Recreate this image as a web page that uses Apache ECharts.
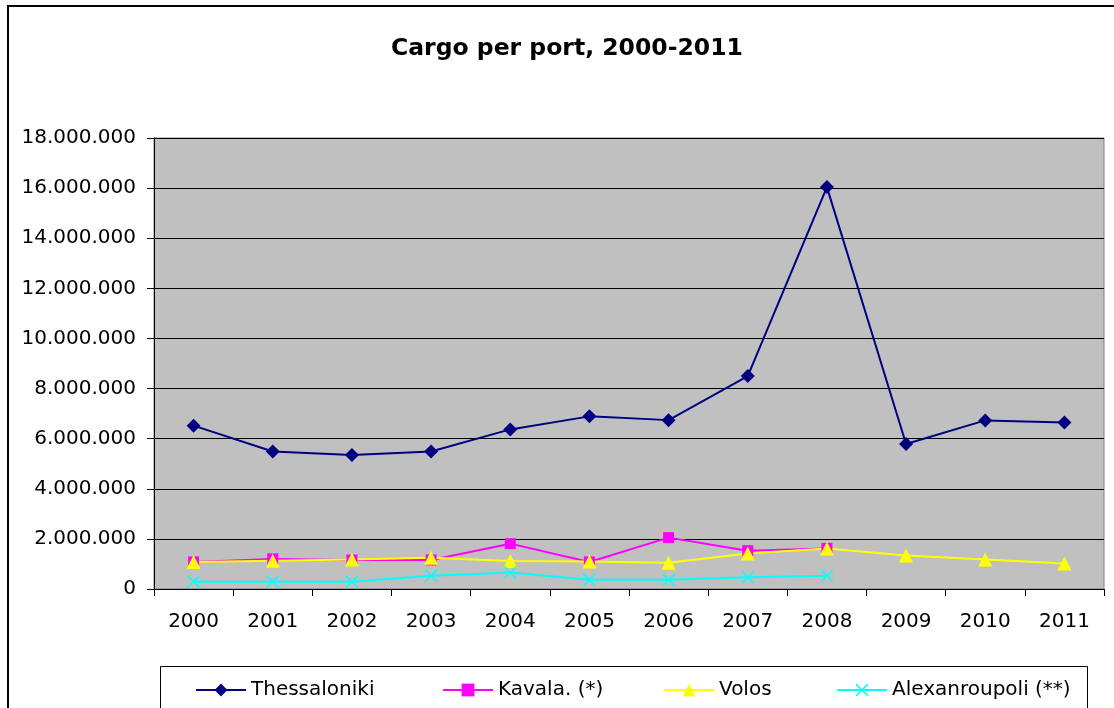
<!DOCTYPE html>
<html>
<head>
<meta charset="utf-8">
<script src="https://cdn.jsdelivr.net/npm/echarts@6/dist/echarts.min.js"></script>
<style>
  html, body { margin: 0; padding: 0; background: #fff; }
  #CargoChart { width: 1114px; height: 708px; }
</style>
</head>
<body>
<div id="CargoChart"></div>
<script>
// data
var years = ['2000', '2001', '2002', '2003', '2004', '2005', '2006', '2007', '2008', '2009', '2010', '2011'];
var thessaloniki = [6520000, 5490000, 5350000, 5490000, 6370000, 6890000, 6740000, 8500000, 16040000, 5790000, 6730000, 6650000];
var kavala = [1080000, 1200000, 1160000, 1160000, 1810000, 1080000, 2050000, 1530000, 1620000, null, null, null];
var volos = [1080000, 1130000, 1180000, 1250000, 1120000, 1100000, 1050000, 1420000, 1620000, 1340000, 1180000, 1020000];
var alexanroupoli = [290000, 290000, 290000, 530000, 660000, 370000, 370000, 470000, 530000, null, null, null];

// the original text is wide, DejaVu Sans is the closest fit
var FONT = '"DejaVu Sans", sans-serif';
var crossPath = 'path://M1,0L6,5L11,0L12,1L7,6L12,11L11,12L6,7L1,12L0,11L5,6L0,1Z';

var CargoChart = {};

CargoChart.legendAt = function (name, left) {
    return {
        data: [name],
        left: left,
        top: 675,
        itemWidth: 50,
        itemHeight: 16,
        itemGap: 0,
        textStyle: { fontFamily: FONT, fontSize: 20, color: '#000' }
    };
};

CargoChart.lineSeries = function (name, data, color, symbol, size) {
    return {
        name: name,
        type: 'line',
        data: data,
        symbol: symbol,
        symbolSize: size,
        showAllSymbol: true,
        connectNulls: false,
        lineStyle: { color: color, width: 2 },
        itemStyle: { color: color },
        emphasis: { disabled: true }
    };
};

CargoChart.init = function () {
    var d = document.getElementById('CargoChart');
    var myChart = echarts.init(d);

    myChart.setOption({
        animation: false,
        backgroundColor: '#fff',
        title: {
            text: 'Cargo per port, 2000-2011',
            left: 386,
            top: 32,
            textStyle: { fontFamily: FONT, fontSize: 23.5, fontWeight: 'bold', color: '#000' }
        },
        legend: [
            CargoChart.legendAt('Thessaloniki', 190),
            CargoChart.legendAt('Kavala. (*)', 437),
            CargoChart.legendAt('Volos', 658),
            CargoChart.legendAt('Alexanroupoli (**)', 831)
        ],
        grid: {
            left: 154,
            right: 10,
            top: 138,
            bottom: 119,
            show: true,
            backgroundColor: '#C0C0C0',
            borderColor: '#808080',
            borderWidth: 1
        },
        xAxis: {
            type: 'category',
            data: years,
            boundaryGap: true,
            axisLine: { lineStyle: { color: '#000', width: 1 } },
            axisTick: { show: true, length: 7, lineStyle: { color: '#000' } },
            axisLabel: { fontFamily: FONT, fontSize: 20, color: '#000', margin: 23 }
        },
        yAxis: {
            type: 'value',
            min: 0,
            max: 18000000,
            interval: 2000000,
            axisLine: { show: true, lineStyle: { color: '#000', width: 1 } },
            axisTick: { show: true, length: 7, lineStyle: { color: '#000' } },
            splitLine: { show: true, lineStyle: { color: '#000', width: 1 } },
            axisLabel: {
                fontFamily: FONT,
                fontSize: 20,
                color: '#000',
                margin: 18,
                formatter: function (v) {
                    return String(v).replace(/\B(?=(\d{3})+(?!\d))/g, '.');
                }
            }
        },
        graphic: [
            {
                type: 'rect',
                shape: { x: 8, y: 6, width: 1200, height: 800 },
                style: { fill: 'none', stroke: '#000', lineWidth: 2 },
                silent: true
            },
            {
                type: 'rect',
                shape: { x: 160.5, y: 666.5, width: 927, height: 60 },
                style: { fill: 'none', stroke: '#000', lineWidth: 1 },
                silent: true
            }
        ],
        series: [
            CargoChart.lineSeries('Thessaloniki', thessaloniki, '#000080', 'diamond', 14),
            CargoChart.lineSeries('Kavala. (*)', kavala, '#FF00FF', 'rect', 11),
            CargoChart.lineSeries('Volos', volos, '#FFFF00', 'triangle', 14),
            CargoChart.lineSeries('Alexanroupoli (**)', alexanroupoli, '#00FFFF', crossPath, 13)
        ]
    });
};

CargoChart.init();
</script>
</body>
</html>
